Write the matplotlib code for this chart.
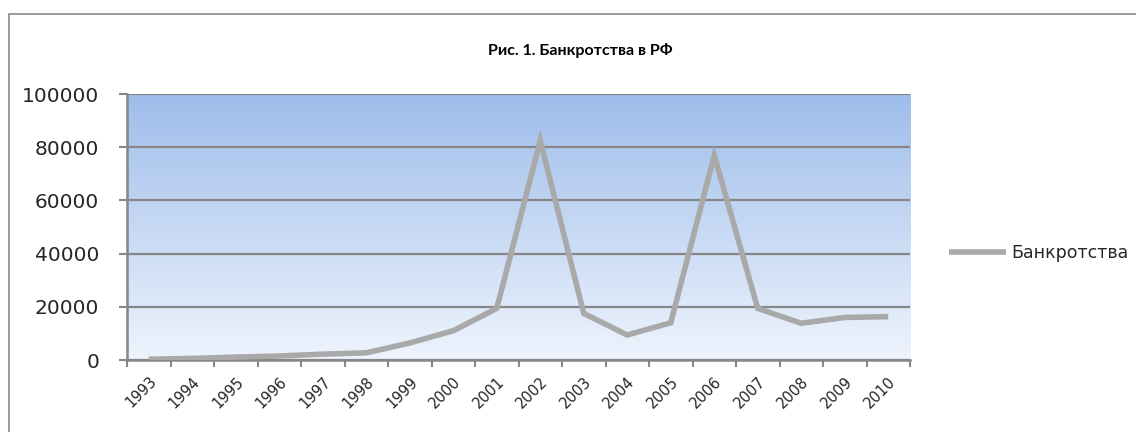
import numpy as np
import matplotlib
matplotlib.use("Agg")
import matplotlib.pyplot as plt
from matplotlib.patches import Rectangle
from matplotlib.colors import LinearSegmentedColormap

years = ["1993", "1994", "1995", "1996", "1997", "1998", "1999", "2000", "2001",
         "2002", "2003", "2004", "2005", "2006", "2007", "2008", "2009", "2010"]
bankruptcies = [300, 600, 1100, 1500, 2200, 2700, 6400, 11000, 19400,
                82500, 17500, 9400, 14000, 76900, 19400, 13800, 16000, 16300]
y_ticks = [0, 20000, 40000, 60000, 80000, 100000]

plt.rcParams['font.family'] = ['DejaVu Sans']

fig = plt.figure(figsize=(11.36, 4.32), dpi=100)
# outer chart frame (cut off at right and bottom, as in the picture)
fig.patches.append(Rectangle((9 / 1136, -0.1), 1.2, (432 - 14) / 432 + 0.1,
                             transform=fig.transFigure, fill=False,
                             edgecolor="#8c8c8c", linewidth=1.2))

ax = fig.add_axes([127 / 1136, (432 - 360) / 432, (910 - 127) / 1136, (360 - 94) / 432])

# gradient background
cmap = LinearSegmentedColormap.from_list("bg", ["#eef4fd", "#9ebdeb"])
grad = np.linspace(0, 1, 256).reshape(-1, 1)
ax.imshow(grad, extent=[0, 1, 0, 1], transform=ax.transAxes, cmap=cmap,
          origin="lower", aspect="auto", zorder=0)

x = np.arange(len(years))
ax.plot(x, bankruptcies, color="#a9a9a9", linewidth=4, solid_joinstyle="miter",
        solid_capstyle="butt", label="Банкротства", zorder=3)

ax.set_xlim(-0.5, len(years) - 0.5)
ax.set_ylim(0, 100000)
ax.set_yticks(y_ticks)
ax.set_yticklabels([str(v) for v in y_ticks], fontsize=14.5, color="#262626")
ax.yaxis.grid(True, color="#868686", linewidth=1.6, zorder=1)
ax.set_axisbelow(True)

ax.set_xticks(x)
ax.set_xticklabels(years, rotation=45, ha="right", rotation_mode="anchor",
                   fontsize=10.5, color="#262626")
ax.set_xticks(np.arange(-0.5, len(years)), minor=True)
ax.tick_params(axis="x", which="major", length=0, pad=10)
ax.tick_params(axis="x", which="minor", length=5, width=1.5, color="#868686")
ax.tick_params(axis="y", length=6, width=1.5, color="#868686", pad=14)

for side in ["top", "right"]:
    ax.spines[side].set_visible(False)
for side in ["left", "bottom"]:
    ax.spines[side].set_color("#868686")
    ax.spines[side].set_linewidth(1.8)

fig.text(580 / 1136, 1 - 50 / 432, "Рис. 1. Банкротства в РФ", ha="center", va="center",
         fontsize=11.5, fontweight="bold", family=["Liberation Sans Narrow", "Lato", "DejaVu Sans"])

ax.legend(loc="center left", bbox_to_anchor=(933 / 1136, 1 - 253 / 432),
          bbox_transform=fig.transFigure, frameon=False, fontsize=12.5,
          handlelength=3.3, handletextpad=0.3, labelcolor="#262626")

fig.savefig("out.png", dpi=100)
